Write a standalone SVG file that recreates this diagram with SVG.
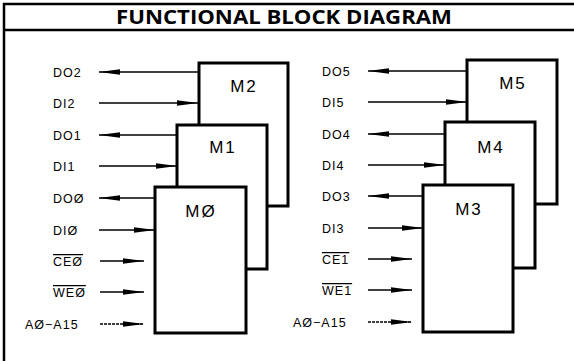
<svg xmlns="http://www.w3.org/2000/svg" width="574" height="361" viewBox="0 0 574 361">
<style>
.frame{stroke:#000;stroke-width:2.5;fill:none}
.box{fill:#fff;stroke:#000;stroke-width:3}
.w{stroke:#000;stroke-width:1.3;fill:none}
.lbl{font-family:"Liberation Sans",Arial,sans-serif;font-size:12.5px;letter-spacing:1px;fill:#000}
.m{font-family:"Liberation Sans",Arial,sans-serif;font-size:17px;fill:#000;text-anchor:middle;letter-spacing:2px}
.title{font-family:"Open Sans","Liberation Sans",sans-serif;font-weight:bold;font-size:19px;text-anchor:middle;fill:#000}
</style>
<defs>
<marker id="ah" markerWidth="21" markerHeight="7" refX="21" refY="3.5" orient="auto" markerUnits="userSpaceOnUse">
<path d="M0,0.7 L21,3.5 L0,6.3 Z" fill="#000"/>
</marker>
</defs>
<rect width="574" height="361" fill="#fff"/>
<g id="frame">
<path class="frame" d="M4,361 V4 H574 M4,30 H574"/>
<text class="title" x="284" y="24" textLength="336" lengthAdjust="spacingAndGlyphs">FUNCTIONAL BLOCK DIAGRAM</text>
</g>
<g id="connectors">
<line class="w" x1="198" y1="72" x2="99" y2="72" marker-end="url(#ah)"/>
<line class="w" x1="99" y1="103" x2="198" y2="103" marker-end="url(#ah)"/>
<line class="w" x1="177" y1="135" x2="99" y2="135" marker-end="url(#ah)"/>
<line class="w" x1="99" y1="166" x2="177" y2="166" marker-end="url(#ah)"/>
<line class="w" x1="155" y1="198" x2="99" y2="198" marker-end="url(#ah)"/>
<line class="w" x1="99" y1="230" x2="155" y2="230" marker-end="url(#ah)"/>
<line class="w" x1="100" y1="261" x2="144" y2="261" marker-end="url(#ah)"/>
<line class="w" x1="100" y1="292" x2="144" y2="292" marker-end="url(#ah)"/>
<line class="w" x1="100" y1="324" x2="144" y2="324" stroke-dasharray="3 1" marker-end="url(#ah)"/>
<line class="w" x1="467" y1="71" x2="368" y2="71" marker-end="url(#ah)"/>
<line class="w" x1="368" y1="102" x2="467" y2="102" marker-end="url(#ah)"/>
<line class="w" x1="445" y1="134" x2="368" y2="134" marker-end="url(#ah)"/>
<line class="w" x1="368" y1="165" x2="445" y2="165" marker-end="url(#ah)"/>
<line class="w" x1="423" y1="196" x2="368" y2="196" marker-end="url(#ah)"/>
<line class="w" x1="368" y1="228" x2="423" y2="228" marker-end="url(#ah)"/>
<line class="w" x1="368" y1="259" x2="412" y2="259" marker-end="url(#ah)"/>
<line class="w" x1="368" y1="290" x2="412" y2="290" marker-end="url(#ah)"/>
<line class="w" x1="368" y1="322" x2="412" y2="322" stroke-dasharray="3 1" marker-end="url(#ah)"/>
</g>
<g id="M2"><rect class="box" x="199" y="63" width="89" height="143"/><text class="m" x="244" y="92">M2</text></g>
<g id="M1"><rect class="box" x="177" y="125" width="90" height="144"/><text class="m" x="223" y="153">M1</text></g>
<g id="M0"><rect class="box" x="155" y="187" width="91" height="146"/><text class="m" x="201" y="217">MØ</text></g>
<g id="M5"><rect class="box" x="467" y="60" width="90" height="144"/><text class="m" x="513" y="89">M5</text></g>
<g id="M4"><rect class="box" x="445" y="122" width="90" height="146"/><text class="m" x="491" y="153">M4</text></g>
<g id="M3"><rect class="box" x="423" y="185" width="90" height="147"/><text class="m" x="469" y="215">M3</text></g>
<g id="labels-left">
<text class="lbl" x="53" y="77">DO2</text>
<text class="lbl" x="53" y="108">DI2</text>
<text class="lbl" x="53" y="140">DO1</text>
<text class="lbl" x="53" y="171">DI1</text>
<text class="lbl" x="53" y="203">DOØ</text>
<text class="lbl" x="53" y="235">DIØ</text>
<text class="lbl" x="53" y="266" text-decoration="overline">CEØ</text>
<text class="lbl" x="53" y="297" text-decoration="overline">WEØ</text>
<text class="lbl" x="25" y="329">AØ−A15</text>
</g>
<g id="labels-right">
<text class="lbl" x="322" y="76">DO5</text>
<text class="lbl" x="322" y="107">DI5</text>
<text class="lbl" x="322" y="139">DO4</text>
<text class="lbl" x="322" y="170">DI4</text>
<text class="lbl" x="322" y="201">DO3</text>
<text class="lbl" x="322" y="233">DI3</text>
<text class="lbl" x="322" y="264" text-decoration="overline">CE1</text>
<text class="lbl" x="322" y="295" text-decoration="overline">WE1</text>
<text class="lbl" x="293" y="327">AØ−A15</text>
</g>
</svg>
